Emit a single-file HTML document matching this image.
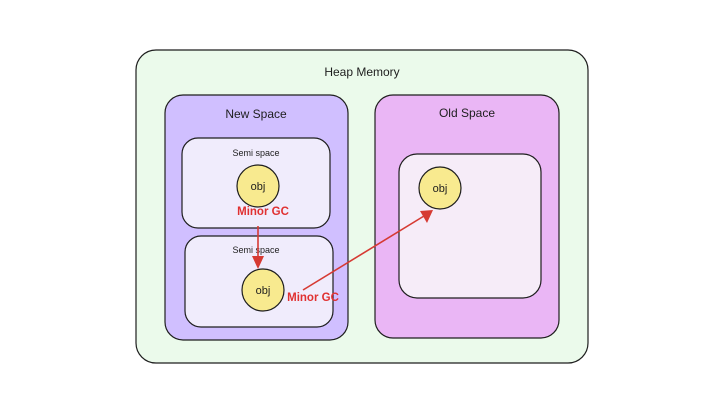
<!DOCTYPE html>
<html><head><style>
body{margin:0;background:#fff;width:714px;height:404px;overflow:hidden}
svg text{font-family:"Liberation Sans",sans-serif}
</style></head><body>
<svg width="714" height="404" xmlns="http://www.w3.org/2000/svg">
<rect x="136" y="50" width="452" height="313" rx="20" fill="#ebfaeb" stroke="#1e1e1e" stroke-width="1.2"/>
<text x="362" y="76" font-size="12" text-anchor="middle" fill="#1e1e1e">Heap Memory</text>
<rect x="165" y="95" width="183" height="245" rx="18" fill="#d0bfff" stroke="#1e1e1e" stroke-width="1.2"/>
<text x="256" y="118" font-size="12" text-anchor="middle" fill="#1e1e1e">New Space</text>
<rect x="375" y="95" width="184" height="243" rx="18" fill="#eab6f5" stroke="#1e1e1e" stroke-width="1.2"/>
<text x="467" y="117" font-size="12" text-anchor="middle" fill="#1e1e1e">Old Space</text>
<rect x="182" y="138" width="148" height="90" rx="16" fill="#f0ecfc" stroke="#1e1e1e" stroke-width="1.2"/>
<text x="256" y="156" font-size="9" text-anchor="middle" fill="#1e1e1e">Semi space</text>
<rect x="185" y="236" width="148" height="91" rx="16" fill="#f0ecfc" stroke="#1e1e1e" stroke-width="1.2"/>
<text x="256" y="253" font-size="9" text-anchor="middle" fill="#1e1e1e">Semi space</text>
<rect x="399" y="154" width="142" height="144" rx="18" fill="#f6ecf8" stroke="#1e1e1e" stroke-width="1.2"/>
<circle cx="258" cy="186" r="21" fill="#f8ea8f" stroke="#1e1e1e" stroke-width="1.2"/>
<text x="258" y="190" font-size="11" text-anchor="middle" fill="#1e1e1e">obj</text>
<circle cx="263" cy="290" r="21" fill="#f8ea8f" stroke="#1e1e1e" stroke-width="1.2"/>
<text x="263" y="294" font-size="11" text-anchor="middle" fill="#1e1e1e">obj</text>
<circle cx="440" cy="188" r="21" fill="#f8ea8f" stroke="#1e1e1e" stroke-width="1.2"/>
<text x="440" y="192" font-size="11" text-anchor="middle" fill="#1e1e1e">obj</text>
<text x="263" y="215" font-size="11.5" text-anchor="middle" fill="#e03131" font-weight="bold">Minor GC</text>
<text x="313" y="301" font-size="11.5" text-anchor="middle" fill="#e03131" font-weight="bold">Minor GC</text>
<line x1="258" y1="226" x2="258" y2="258" stroke="#d63a33" stroke-width="1.6"/>
<polygon points="252,256 264,256 258,269" fill="#d63a33"/>
<line x1="303" y1="290" x2="424" y2="216" stroke="#d63a33" stroke-width="1.6"/>
<polygon points="433,210 420,211 427,223" fill="#d63a33"/>
</svg>
</body></html>
